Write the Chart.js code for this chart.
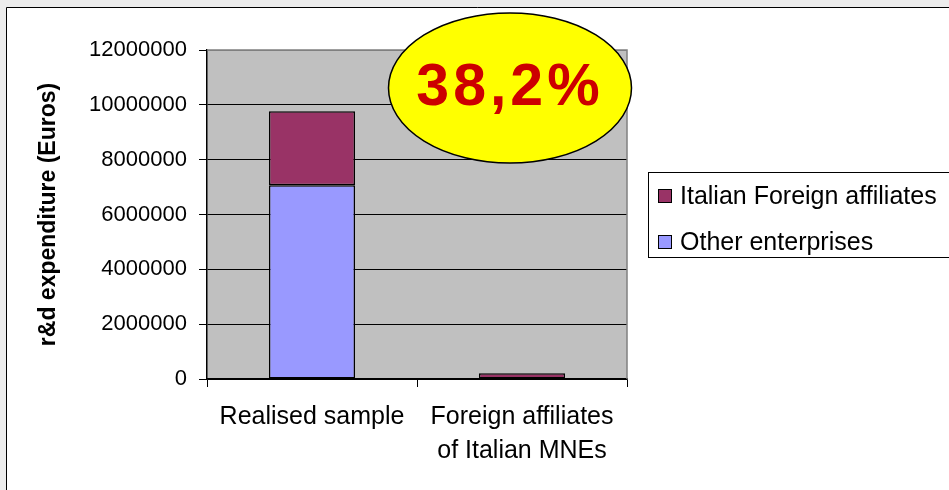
<!DOCTYPE html>
<html>
<head>
<meta charset="utf-8">
<script src="https://cdn.jsdelivr.net/npm/chart.js@4/dist/chart.umd.min.js"></script>
<style>
html,body{margin:0;padding:0;background:#fff;}
#wrap{position:relative;width:949px;height:490px;}
</style>
</head>
<body>
<div id="wrap"><canvas id="c" width="949" height="490"></canvas></div>
<script>
const categories = ['Realised sample', ['Foreign affiliates', 'of Italian MNEs']];
const otherEnterprises = [7070000, null];
const italianForeignAffiliates = [2700000, 210000];
const seriesLabels = ['Other enterprises', 'Italian Foreign affiliates'];
const calloutText = '38,2%';
const yTitle = 'r&d expenditure (Euros)';

const FONT = "'Liberation Sans', Arial, sans-serif";

const decor = {
  id: 'decor',
  beforeDraw(chart) {
    const ctx = chart.ctx, a = chart.chartArea;
    ctx.save();
    ctx.fillStyle = '#ffffff';
    ctx.fillRect(0, 0, chart.width, chart.height);
    ctx.fillStyle = '#ececec';
    ctx.fillRect(0, 0, 6, chart.height);
    ctx.fillRect(0, 0, chart.width, 7);
    ctx.strokeStyle = '#000';
    ctx.lineWidth = 1;
    ctx.beginPath();
    ctx.moveTo(6.5, chart.height);
    ctx.lineTo(6.5, 7.5);
    ctx.lineTo(chart.width, 7.5);
    ctx.stroke();
    ctx.fillStyle = '#C0C0C0';
    ctx.fillRect(a.left, a.top, a.right - a.left, a.bottom - a.top);
    ctx.restore();
  },
  afterDatasetsDraw(chart) {
    const ctx = chart.ctx, a = chart.chartArea;
    ctx.save();
    ctx.strokeStyle = '#808080';
    ctx.lineWidth = 1.5;
    ctx.beginPath();
    ctx.moveTo(a.left, a.top);
    ctx.lineTo(a.right, a.top);
    ctx.lineTo(a.right, a.bottom);
    ctx.stroke();
    ctx.restore();
  },
  afterDraw(chart) {
    const ctx = chart.ctx;
    ctx.save();
    // legend
    ctx.strokeStyle = '#000';
    ctx.lineWidth = 1;
    ctx.strokeRect(648.5, 172.5, 320, 85);
    const items = chart.data.datasets.slice().reverse();
    const ys = [196, 242];
    ctx.font = '25px ' + FONT;
    ctx.textBaseline = 'middle';
    items.forEach((ds, i) => {
      ctx.fillStyle = ds.backgroundColor;
      ctx.fillRect(658, ys[i] - 7, 14, 14);
      ctx.strokeRect(658.5, ys[i] - 6.5, 13, 13);
      ctx.fillStyle = '#000';
      ctx.fillText(ds.label, 680, ys[i] + 1);
    });
    // callout ellipse
    ctx.beginPath();
    ctx.ellipse(510, 88, 121.5, 75, 0, 0, Math.PI * 2);
    ctx.fillStyle = '#FFFF00';
    ctx.fill();
    ctx.lineWidth = 1.5;
    ctx.strokeStyle = '#000';
    ctx.stroke();
    ctx.fillStyle = '#CC0000';
    ctx.font = 'bold 59px ' + FONT;
    ctx.textAlign = 'center';
    ctx.textBaseline = 'middle';
    try { ctx.letterSpacing = '4px'; } catch (e) {}
    ctx.fillText(calloutText, 510, 89);
    ctx.restore();
  }
};

new Chart(document.getElementById('c'), {
  type: 'bar',
  data: {
    labels: categories,
    datasets: [
      { label: seriesLabels[0], data: otherEnterprises, backgroundColor: '#9999FF', borderColor: '#000', borderWidth: 1.5, borderSkipped: false },
      { label: seriesLabels[1], data: italianForeignAffiliates, backgroundColor: '#993366', borderColor: '#000', borderWidth: 1.5, borderSkipped: false }
    ]
  },
  options: {
    responsive: false,
    animation: false,
    devicePixelRatio: 1,
    layout: { padding: { left: 0, right: 322, top: 50, bottom: 0 } },
    datasets: { bar: { barPercentage: 0.41, categoryPercentage: 1 } },
    plugins: { legend: { display: false }, tooltip: { enabled: false } },
    scales: {
      x: {
        stacked: true,
        grid: { offset: true, drawOnChartArea: false, drawTicks: true, tickLength: 8, color: '#000' },
        border: { color: '#000', width: 1.5 },
        ticks: { color: '#000', font: { family: FONT, size: 25, lineHeight: 1.36 }, padding: 13, maxRotation: 0 },
        afterFit(s) { s.height = 111; }
      },
      y: {
        stacked: true,
        min: 0, max: 12000000,
        ticks: { stepSize: 2000000, color: '#000', font: { family: FONT, size: 22 }, padding: 12, callback: (v) => String(v) },
        grid: { color: (c) => (c.tick && c.tick.value === 12000000 ? '#808080' : '#000'), tickColor: '#000', tickLength: 8, lineWidth: 1 },
        border: { color: '#000', width: 1.5 },
        title: { display: true, text: yTitle, color: '#000', font: { family: FONT, size: 23, weight: 'bold' }, padding: { top: 35, bottom: 0 } },
        afterFit(s) { s.width = 207; }
      }
    }
  },
  plugins: [decor]
});
</script>
</body>
</html>
